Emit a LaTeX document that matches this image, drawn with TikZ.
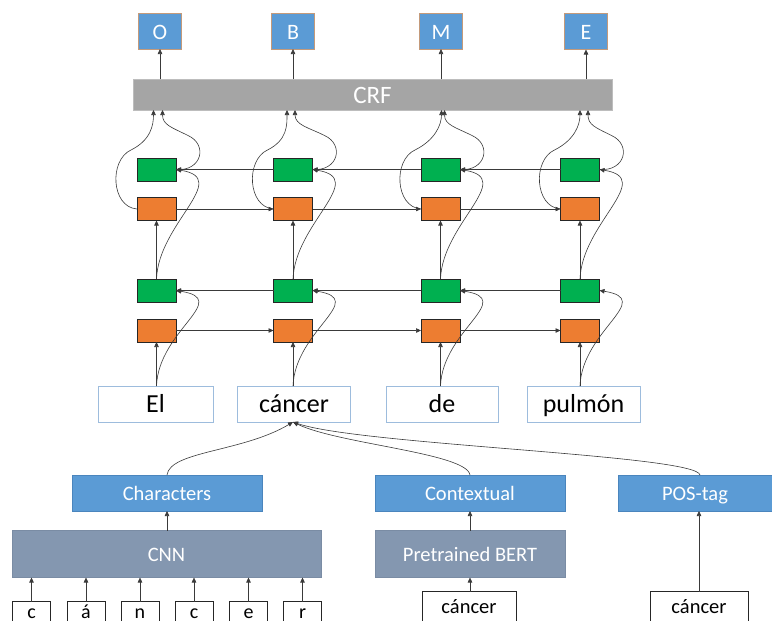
\documentclass[tikz,border=0pt]{standalone}
\usepackage{fontspec}
\setmainfont{Carlito}
\usetikzlibrary{arrows.meta,calc}

\definecolor{boxblue}{HTML}{5B9BD5}
\definecolor{boxblueline}{HTML}{4A85BD}
\definecolor{tagline}{HTML}{C49A7A}
\definecolor{crfgray}{HTML}{A5A5A5}
\definecolor{crfline}{HTML}{BDBDBD}
\definecolor{slate}{HTML}{8497B0}
\definecolor{slateline}{HTML}{7A8CA4}
\definecolor{lstmgreen}{HTML}{00B050}
\definecolor{lstmorange}{HTML}{ED7D31}
\definecolor{wordline}{HTML}{9DBCDD}
\definecolor{wire}{HTML}{3A3A3A}

\begin{document}
\begin{tikzpicture}[x=1pt,y=-1pt,
  every node/.style={inner sep=0pt, outer sep=0pt},
  arr/.style={draw=wire, line width=0.6pt, -{Triangle[length=5pt,width=4.5pt]}},
  tagbox/.style={draw=tagline, fill=boxblue, line width=0.5pt,
    minimum width=43pt, minimum height=36pt, text=white,
    font=\fontsize{22}{26}\selectfont, text height=18.6pt, text depth=2pt},
  crfbox/.style={draw=crfline, fill=crfgray, line width=0.6pt,
    minimum width=479pt, minimum height=31pt, text=white,
    font=\fontsize{25}{30}\selectfont, text height=19.5pt, text depth=2pt},
  cellbox/.style={draw=black!85, line width=0.6pt, minimum width=39pt, minimum height=23pt},
  fwdcell/.style={cellbox, fill=lstmorange},
  bwdcell/.style={cellbox, fill=lstmgreen},
  wordbox/.style={draw=wordline, fill=white, line width=0.6pt, minimum height=36pt,
    font=\fontsize{26}{31}\selectfont, text height=18.5pt, text depth=2pt},
  featbox/.style={draw=boxblueline, fill=boxblue, line width=0.6pt, minimum height=36pt,
    text=white, font=\fontsize{20.5}{24}\selectfont, text height=16pt, text depth=2pt},
  encbox/.style={draw=slateline, fill=slate, line width=0.6pt, minimum height=47pt,
    text=white, font=\fontsize{20.5}{24}\selectfont, text height=16pt, text depth=2pt},
  charbox/.style={draw=black!85, fill=white, line width=0.6pt, minimum width=38pt,
    minimum height=24pt, font=\fontsize{20}{24}\selectfont, text height=11pt, text depth=1pt},
  tokbox/.style={draw=black!85, fill=white, line width=0.6pt, minimum height=35pt,
    font=\fontsize{20.5}{24}\selectfont, text height=11pt, text depth=3pt}
]
\clip (0,0) rectangle (772,621);

% output tags
\node[tagbox] (tO) at (160,31) {O};
\node[tagbox] (tB) at (293,31) {B};
\node[tagbox] (tM) at (441,31) {M};
\node[tagbox] (tE) at (586,31.5) {E};

% CRF layer
\node[crfbox] (crf) at (372.5,94.5) {CRF};

% two stacked BiLSTM layers (orange forward, green backward)
\foreach \i/\x in {1/156.5,2/293,3/440.5,4/580} {
  \node[bwdcell] (gt\i) at (\x,169.5) {};
  \node[fwdcell] (ot\i) at (\x,209) {};
  \node[bwdcell] (gl\i) at (\x,290.5) {};
  \node[fwdcell] (ol\i) at (\x,330.5) {};
}

% input words
\node[wordbox, minimum width=115pt] (w1) at (155.5,404) {El};
\node[wordbox, minimum width=113pt] (w2) at (294,404) {cáncer};
\node[wordbox, minimum width=112pt] (w3) at (442,404) {de};
\node[wordbox, minimum width=113pt] (w4) at (583.5,404) {pulmón};

% word representation features
\node[featbox, minimum width=190pt] (chars) at (167,493) {Characters};
\node[featbox, minimum width=190pt] (ctx) at (470,493) {Contextual};
\node[featbox, minimum width=154pt] (pos) at (695,493) {POS-tag};

\node[encbox, minimum width=309pt] (cnn) at (166.5,554) {CNN};
\node[encbox, minimum width=190pt] (bert) at (470,554) {Pretrained BERT};

% character inputs
\foreach \i/\x/\ch in {1/31.5/c,2/86/á,3/140/n,4/194/c,5/248.5/e,6/302.5/r} {
  \node[charbox] (ch\i) at (\x,613.5) {\ch};
  \draw[arr] (ch\i.north) -- (ch\i.north |- cnn.south);
}

% token inputs
\node[tokbox, minimum width=94pt] (tok1) at (469,609) {cáncer};
\node[tokbox, minimum width=98pt] (tok2) at (699,609) {cáncer};

% tag outputs
\foreach \t in {tO,tB,tM,tE}
  \draw[arr] (\t.south |- crf.north) -- (\t.south);

% recurrent connections
\foreach \i/\j in {1/2,2/3,3/4} {
  \draw[arr] (ol\i.east) -- (ol\j.west);
  \draw[arr] (gl\j.west) -- (gl\i.east);
  \draw[arr] (ot\i.east) -- (ot\j.west);
  \draw[arr] (gt\j.west) -- (gt\i.east);
}

% vertical flow through each column
\foreach \i/\dl/\dr in {1/-3/6,2/-6/2,3/1/4,4/0/8} {
  \coordinate (cl\i) at ($(ot\i.north |- crf.south)+(\dl,0)$);
  \coordinate (cr\i) at ($(ot\i.north |- crf.south)+(\dr,0)$);
  \coordinate (in\i) at (ol\i |- w\i.north);
  \draw[arr] (in\i) -- (ol\i.south);
  \draw[arr] (in\i) .. controls ($(in\i)+(2,-56)$) and ($(gl\i.east)+(56,9)$) .. (gl\i.east);
  \draw[arr] (gl\i.north) -- (ot\i.south);
  \draw[arr] (gl\i.north) .. controls ($(gl\i.north)+(2,-56)$) and ($(gt\i.east)+(56,9)$) .. (gt\i.east);
  \draw[arr] (ot\i.west) .. controls ($(ot\i.west)+(-26,-2)$) and ($(ot\i.west)+(-28,-49)$)
     .. ($(ot\i.west)+(-6,-59)$) .. controls ($(ot\i.west)+(14,-69)$) and ($(cl\i)+(0,15)$) .. (cl\i);
  \draw[arr] (gt\i.east) .. controls ($(gt\i.east)+(26,2)$) and ($(gt\i.east)+(32,-25)$)
     .. ($(gt\i.east)+(12,-34)$) .. controls ($(gt\i.east)+(-4,-42)$) and ($(cr\i)+(0,15)$) .. (cr\i);
}

% feature merge into the word "cáncer"
\coordinate (hub) at (ol2 |- w2.south);
\draw[arr] (chars.north) .. controls ($(chars.north)+(3,-24)$) and ($(hub)+(-50,30)$) .. (hub);
\draw[arr] (ctx.north) .. controls ($(ctx.north)+(-3,-22)$) and ($(hub)+(45,22)$) .. (hub);
\coordinate (posin) at ($(pos.north)+(5,0)$);
\draw[arr] (posin) .. controls ($(posin)+(-3,-20)$) and ($(hub)+(67,23)$) .. (hub);

% encoders to features
\draw[arr] (chars.south |- cnn.north) -- (chars.south);
\draw[arr] (ctx.south |- bert.north) -- (ctx.south);
\draw[arr] (bert.south |- tok1.north) -- (bert.south);
\draw[arr] (tok2.north) -- (tok2.north |- pos.south);
\end{tikzpicture}
\end{document}
